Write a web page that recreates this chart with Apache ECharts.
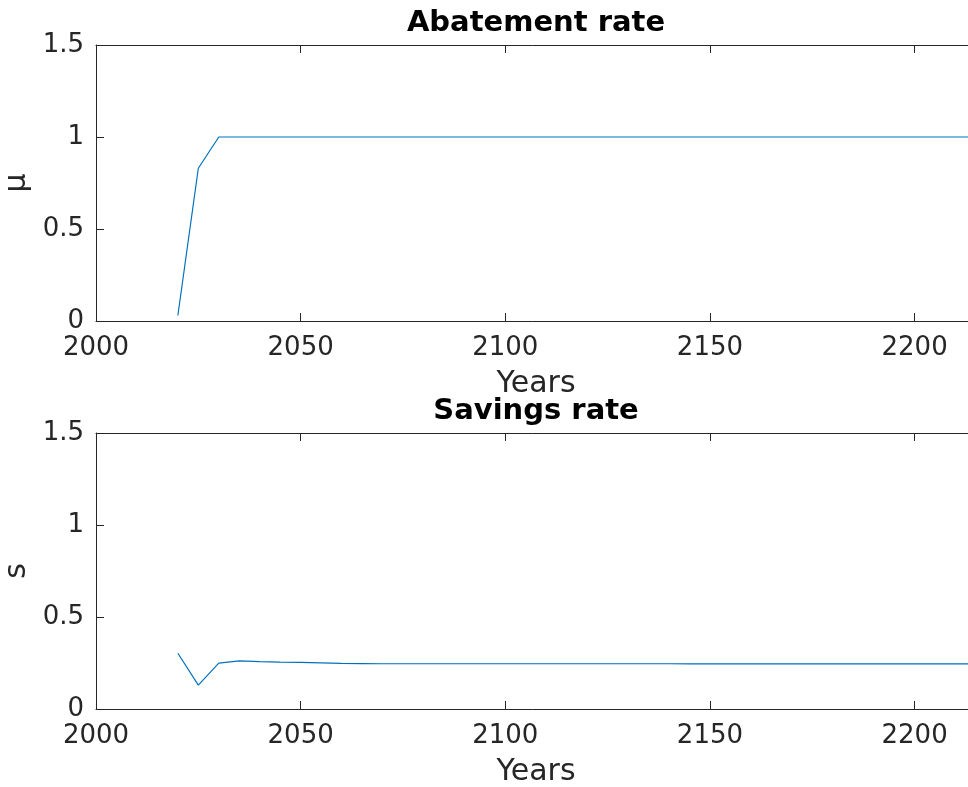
<!DOCTYPE html>
<html>
<head>
<meta charset="utf-8">
<script src="https://cdn.jsdelivr.net/npm/echarts@6/dist/echarts.min.js"></script>
<style>
html,body{margin:0;padding:0;background:#fff;}
#chart{width:968px;height:787px;}
</style>
</head>
<body>
<div id="chart"></div>
<script>
const years = [2020,2025,2030,2035,2040,2045,2050,2055,2060,2065,2070,2075,2080,2085,2090,2095,2100,2105,2110,2115,2120,2125,2130,2135,2140,2145,2150,2155,2160,2165,2170,2175,2180,2185,2190,2195,2200,2205,2210,2215];
const mu = [0.03,0.83,1,1,1,1,1,1,1,1,1,1,1,1,1,1,1,1,1,1,1,1,1,1,1,1,1,1,1,1,1,1,1,1,1,1,1,1,1,1];
const s = [0.303,0.130,0.249,0.262,0.258,0.255,0.253,0.251,0.248,0.247,0.246,0.246,0.246,0.246,0.246,0.246,0.246,0.246,0.246,0.246,0.246,0.246,0.246,0.246,0.246,0.245,0.245,0.245,0.245,0.245,0.245,0.245,0.245,0.245,0.245,0.245,0.245,0.245,0.245,0.245];
const xTicks = [2000,2050,2100,2150,2200];
const yTicks = [0,0.5,1,1.5];
const titles = ['Abatement rate','Savings rate'];
const yNames = ['\u03bc','s'];
const xName = 'Years';

const FONT = 'DejaVu Sans';
const AX = '#262626';
const grids = [
  {left:96, top:45, width:880, height:276, outerBoundsMode:'none', containLabel:false},
  {left:96, top:433, width:880, height:276, outerBoundsMode:'none', containLabel:false}
];
const xAxes = [], yAxes = [], series = [], titleComps = [];
grids.forEach((g, i) => {
  const common = {
    axisLine:{show:true, onZero:false, lineStyle:{color:AX, width:1}},
    splitLine:{show:false}
  };
  xAxes.push(Object.assign({}, common, {
    type:'value', gridIndex:i, min:2000, max:2215, interval:50, position:'bottom',
    axisTick:{show:true, inside:true, length:8, lineStyle:{color:AX}},
    axisLabel:{show:true, color:AX, fontFamily:FONT, fontSize:26, margin:14,
      formatter: v => xTicks.indexOf(v) >= 0 ? String(v) : ''},
    name:xName, nameLocation:'middle', nameGap:48,
    nameTextStyle:{color:AX, fontFamily:FONT, fontSize:30}
  }));
  xAxes.push(Object.assign({}, common, {
    type:'value', gridIndex:i, min:2000, max:2215, interval:50, position:'top',
    axisTick:{show:true, inside:true, length:8, lineStyle:{color:AX}},
    axisLabel:{show:false}
  }));
  yAxes.push(Object.assign({}, common, {
    type:'value', gridIndex:i, min:0, max:1.5, interval:0.5, position:'left',
    axisTick:{show:true, inside:true, length:8, lineStyle:{color:AX}},
    axisLabel:{show:true, color:AX, fontFamily:FONT, fontSize:26, margin:12,
      formatter: v => yTicks.indexOf(v) >= 0 ? String(v) : ''},
    name:yNames[i], nameLocation:'middle', nameGap:62, nameRotate:90,
    nameTextStyle:{color:AX, fontFamily:FONT, fontSize:30}
  }));
  yAxes.push(Object.assign({}, common, {
    type:'value', gridIndex:i, min:0, max:1.5, interval:0.5, position:'right',
    axisTick:{show:true, inside:true, length:8, lineStyle:{color:AX}},
    axisLabel:{show:false}
  }));
  titleComps.push({
    text:titles[i], left:531, top: g.top - 41, textAlign:'center',
    textStyle:{fontFamily:FONT, fontWeight:'bold', fontSize:29, color:'#000'}
  });
  series.push({
    type:'line', xAxisIndex:i*2, yAxisIndex:i*2, symbol:'none', silent:true,
    lineStyle:{color:'#0072BD', width:1.2},
    data: years.map((y, k) => [y, (i === 0 ? mu : s)[k]])
  });
});

const chart = echarts.init(document.getElementById('chart'), null, {renderer:'canvas'});
chart.setOption({
  animation:false,
  backgroundColor:'#fff',
  title:titleComps,
  grid:grids,
  xAxis:xAxes,
  yAxis:yAxes,
  series:series
});
</script>
</body>
</html>
